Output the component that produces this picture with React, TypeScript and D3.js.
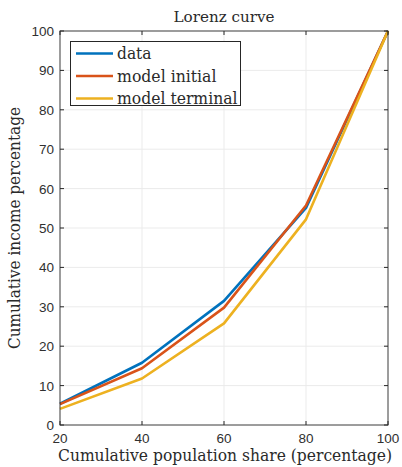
import React from "react";
import * as d3 from "d3";

// Cumulative population share (percent) and cumulative income shares
const populationShare = [20, 40, 60, 80, 100];
const dataShare = [5.4, 15.8, 31.5, 55.1, 100];
const modelInitialShare = [5.3, 14.4, 29.8, 55.7, 100];
const modelTerminalShare = [4.1, 11.8, 25.8, 52.2, 100];

const xTicks = [20, 40, 60, 80, 100];
const yTicks = [0, 10, 20, 30, 40, 50, 60, 70, 80, 90, 100];

const seriesNames = ["data", "model initial", "model terminal"];
const seriesColors = ["#0072BD", "#D95319", "#EDB120"];

const W = 402;
const H = 467;
const margin = { left: 60, right: 14, top: 31, bottom: 42 };

export default function App() {
  const x = d3.scaleLinear().domain([20, 100]).range([margin.left, W - margin.right]);
  const y = d3.scaleLinear().domain([0, 100]).range([H - margin.bottom, margin.top]);
  const line = d3
    .line<[number, number]>()
    .x((d) => x(d[0]))
    .y((d) => y(d[1]));

  const series = [dataShare, modelInitialShare, modelTerminalShare];
  const [x0, x1] = x.range();
  const [yb, yt] = y.range();
  const tickLen = 4;
  const tickFont = "'Liberation Sans', Arial, Helvetica, sans-serif";
  const serif = "'DejaVu Serif', 'Liberation Serif', serif";
  const legendWidths = [34.5, 99.5, 120.5];
  const textColor = "#2a2a2a";

  return (
    <svg width={W} height={H} style={{ position: "absolute", left: 0, top: 0, background: "#fff" }}>
      <rect x={0} y={0} width={W} height={H} fill="#fff" />
      {/* grid */}
      <g stroke="#ebebeb" strokeWidth={1}>
        {xTicks.map((t) => (
          <line key={"gx" + t} x1={x(t)} x2={x(t)} y1={yt} y2={yb} />
        ))}
        {yTicks.map((t) => (
          <line key={"gy" + t} x1={x0} x2={x1} y1={y(t)} y2={y(t)} />
        ))}
      </g>
      {/* series */}
      {series.map((s, i) => (
        <path
          key={seriesNames[i]}
          d={line(populationShare.map((p, j) => [p, s[j]] as [number, number])) || ""}
          fill="none"
          stroke={seriesColors[i]}
          strokeWidth={2.6}
          strokeLinejoin="round"
        />
      ))}
      {/* box and ticks */}
      <rect x={x0} y={yt} width={x1 - x0} height={yb - yt} fill="none" stroke="#262626" strokeWidth={1} strokeOpacity={0.85} />
      <g stroke="#262626" strokeWidth={1}>
        {xTicks.map((t) => (
          <g key={"tx" + t}>
            <line x1={x(t)} x2={x(t)} y1={yb} y2={yb - tickLen} />
            <line x1={x(t)} x2={x(t)} y1={yt} y2={yt + tickLen} />
          </g>
        ))}
        {yTicks.map((t) => (
          <g key={"ty" + t}>
            <line x1={x0} x2={x0 + tickLen} y1={y(t)} y2={y(t)} />
            <line x1={x1} x2={x1 - tickLen} y1={y(t)} y2={y(t)} />
          </g>
        ))}
      </g>
      {/* tick labels */}
      <g fill="#303030" fontFamily={tickFont} fontSize={13.5}>
        {xTicks.map((t) => (
          <text key={"lx" + t} x={x(t)} y={yb + 18} textAnchor="middle">
            {t}
          </text>
        ))}
        {yTicks.map((t) => (
          <text key={"ly" + t} x={x0 - 6} y={y(t) + 5} textAnchor="end">
            {t}
          </text>
        ))}
      </g>
      {/* title and axis labels */}
      <text
        x={(x0 + x1) / 2}
        y={22}
        textAnchor="middle"
        fontFamily={serif}
        fontSize={14}
        fill={textColor}
        textLength={101}
        lengthAdjust="spacingAndGlyphs"
      >
        Lorenz curve
      </text>
      <text
        x={(58 + 392) / 2}
        y={461}
        textAnchor="middle"
        fontFamily={serif}
        fontSize={16}
        fill={textColor}
        textLength={334}
        lengthAdjust="spacingAndGlyphs"
      >
        Cumulative population share (percentage)
      </text>
      <text
        transform={`translate(19.5, ${(349 + 107) / 2}) rotate(-90)`}
        textAnchor="middle"
        fontFamily={serif}
        fontSize={16}
        fill={textColor}
        textLength={242}
        lengthAdjust="spacingAndGlyphs"
      >
        Cumulative income percentage
      </text>
      {/* legend */}
      <g>
        <rect x={70.5} y={41.5} width={170} height={64} fill="#fff" stroke="#262626" strokeWidth={1} />
        {seriesNames.map((n, i) => {
          const ly = 53.5 + i * 22.5;
          return (
            <g key={"leg" + n}>
              <line x1={76} x2={113} y1={ly} y2={ly} stroke={seriesColors[i]} strokeWidth={2.6} />
              <text
                x={117}
                y={ly + 5.5}
                fontFamily={serif}
                fontSize={16}
                fill={textColor}
                textLength={legendWidths[i]}
                lengthAdjust="spacingAndGlyphs"
              >
                {n}
              </text>
            </g>
          );
        })}
      </g>
    </svg>
  );
}
